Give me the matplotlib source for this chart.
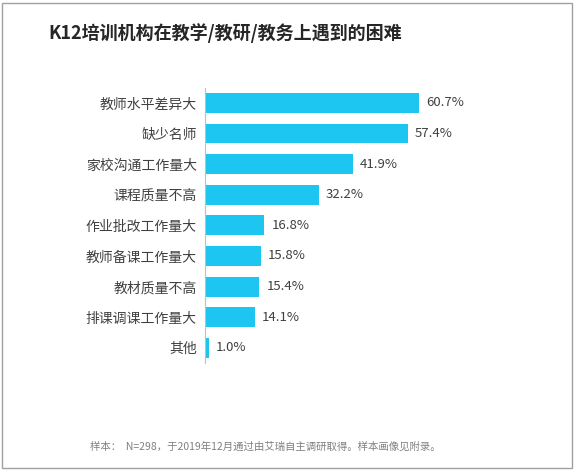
import matplotlib.pyplot as plt
from matplotlib.patches import Rectangle

plt.rcParams['font.family'] = ['Noto Sans CJK SC', 'DejaVu Sans']

categories = ["教师水平差异大", "缺少名师", "家校沟通工作量大", "课程质量不高",
              "作业批改工作量大", "教师备课工作量大", "教材质量不高", "排课调课工作量大", "其他"]
values = [60.7, 57.4, 41.9, 32.2, 16.8, 15.8, 15.4, 14.1, 1.0]

fig = plt.figure(figsize=(5.81, 4.71), dpi=100)
ax = fig.add_axes([0.353, 0.229, 0.607, 0.585])
pos = list(range(len(categories)))
ax.barh(pos, values, height=0.65, color="#1cc6f0")
for p, v in zip(pos, values):
    ax.text(v + 2, p, f"{v:.1f}%", va="center", ha="left", fontsize=9.5, color="#404040")
ax.set_yticks(pos)
ax.set_yticklabels(categories, fontsize=10, color="#404040")
ax.set_ylim(len(categories) - 0.5, -0.5)
ax.set_xlim(0, 100)
ax.set_xticks([])
ax.tick_params(axis="y", length=0, pad=6)
for s in ["top", "right", "bottom"]:
    ax.spines[s].set_visible(False)
ax.spines["left"].set_color("#bfbfbf")

fig.text(0.083, 0.93, "K12培训机构在教学/教研/教务上遇到的困难", fontsize=13,
         fontweight="bold", color="#262626", va="center")
fig.text(0.155, 0.052, "样本：  N=298，于2019年12月通过由艾瑞自主调研取得。样本画像见附录。",
         fontsize=7.5, color="#808080", va="center")
fig.patches.append(Rectangle((0.004, 0.006), 0.98, 0.988, transform=fig.transFigure,
                             fill=False, edgecolor="#a0a0a0", linewidth=1))
fig.savefig("out.png", dpi=100)
